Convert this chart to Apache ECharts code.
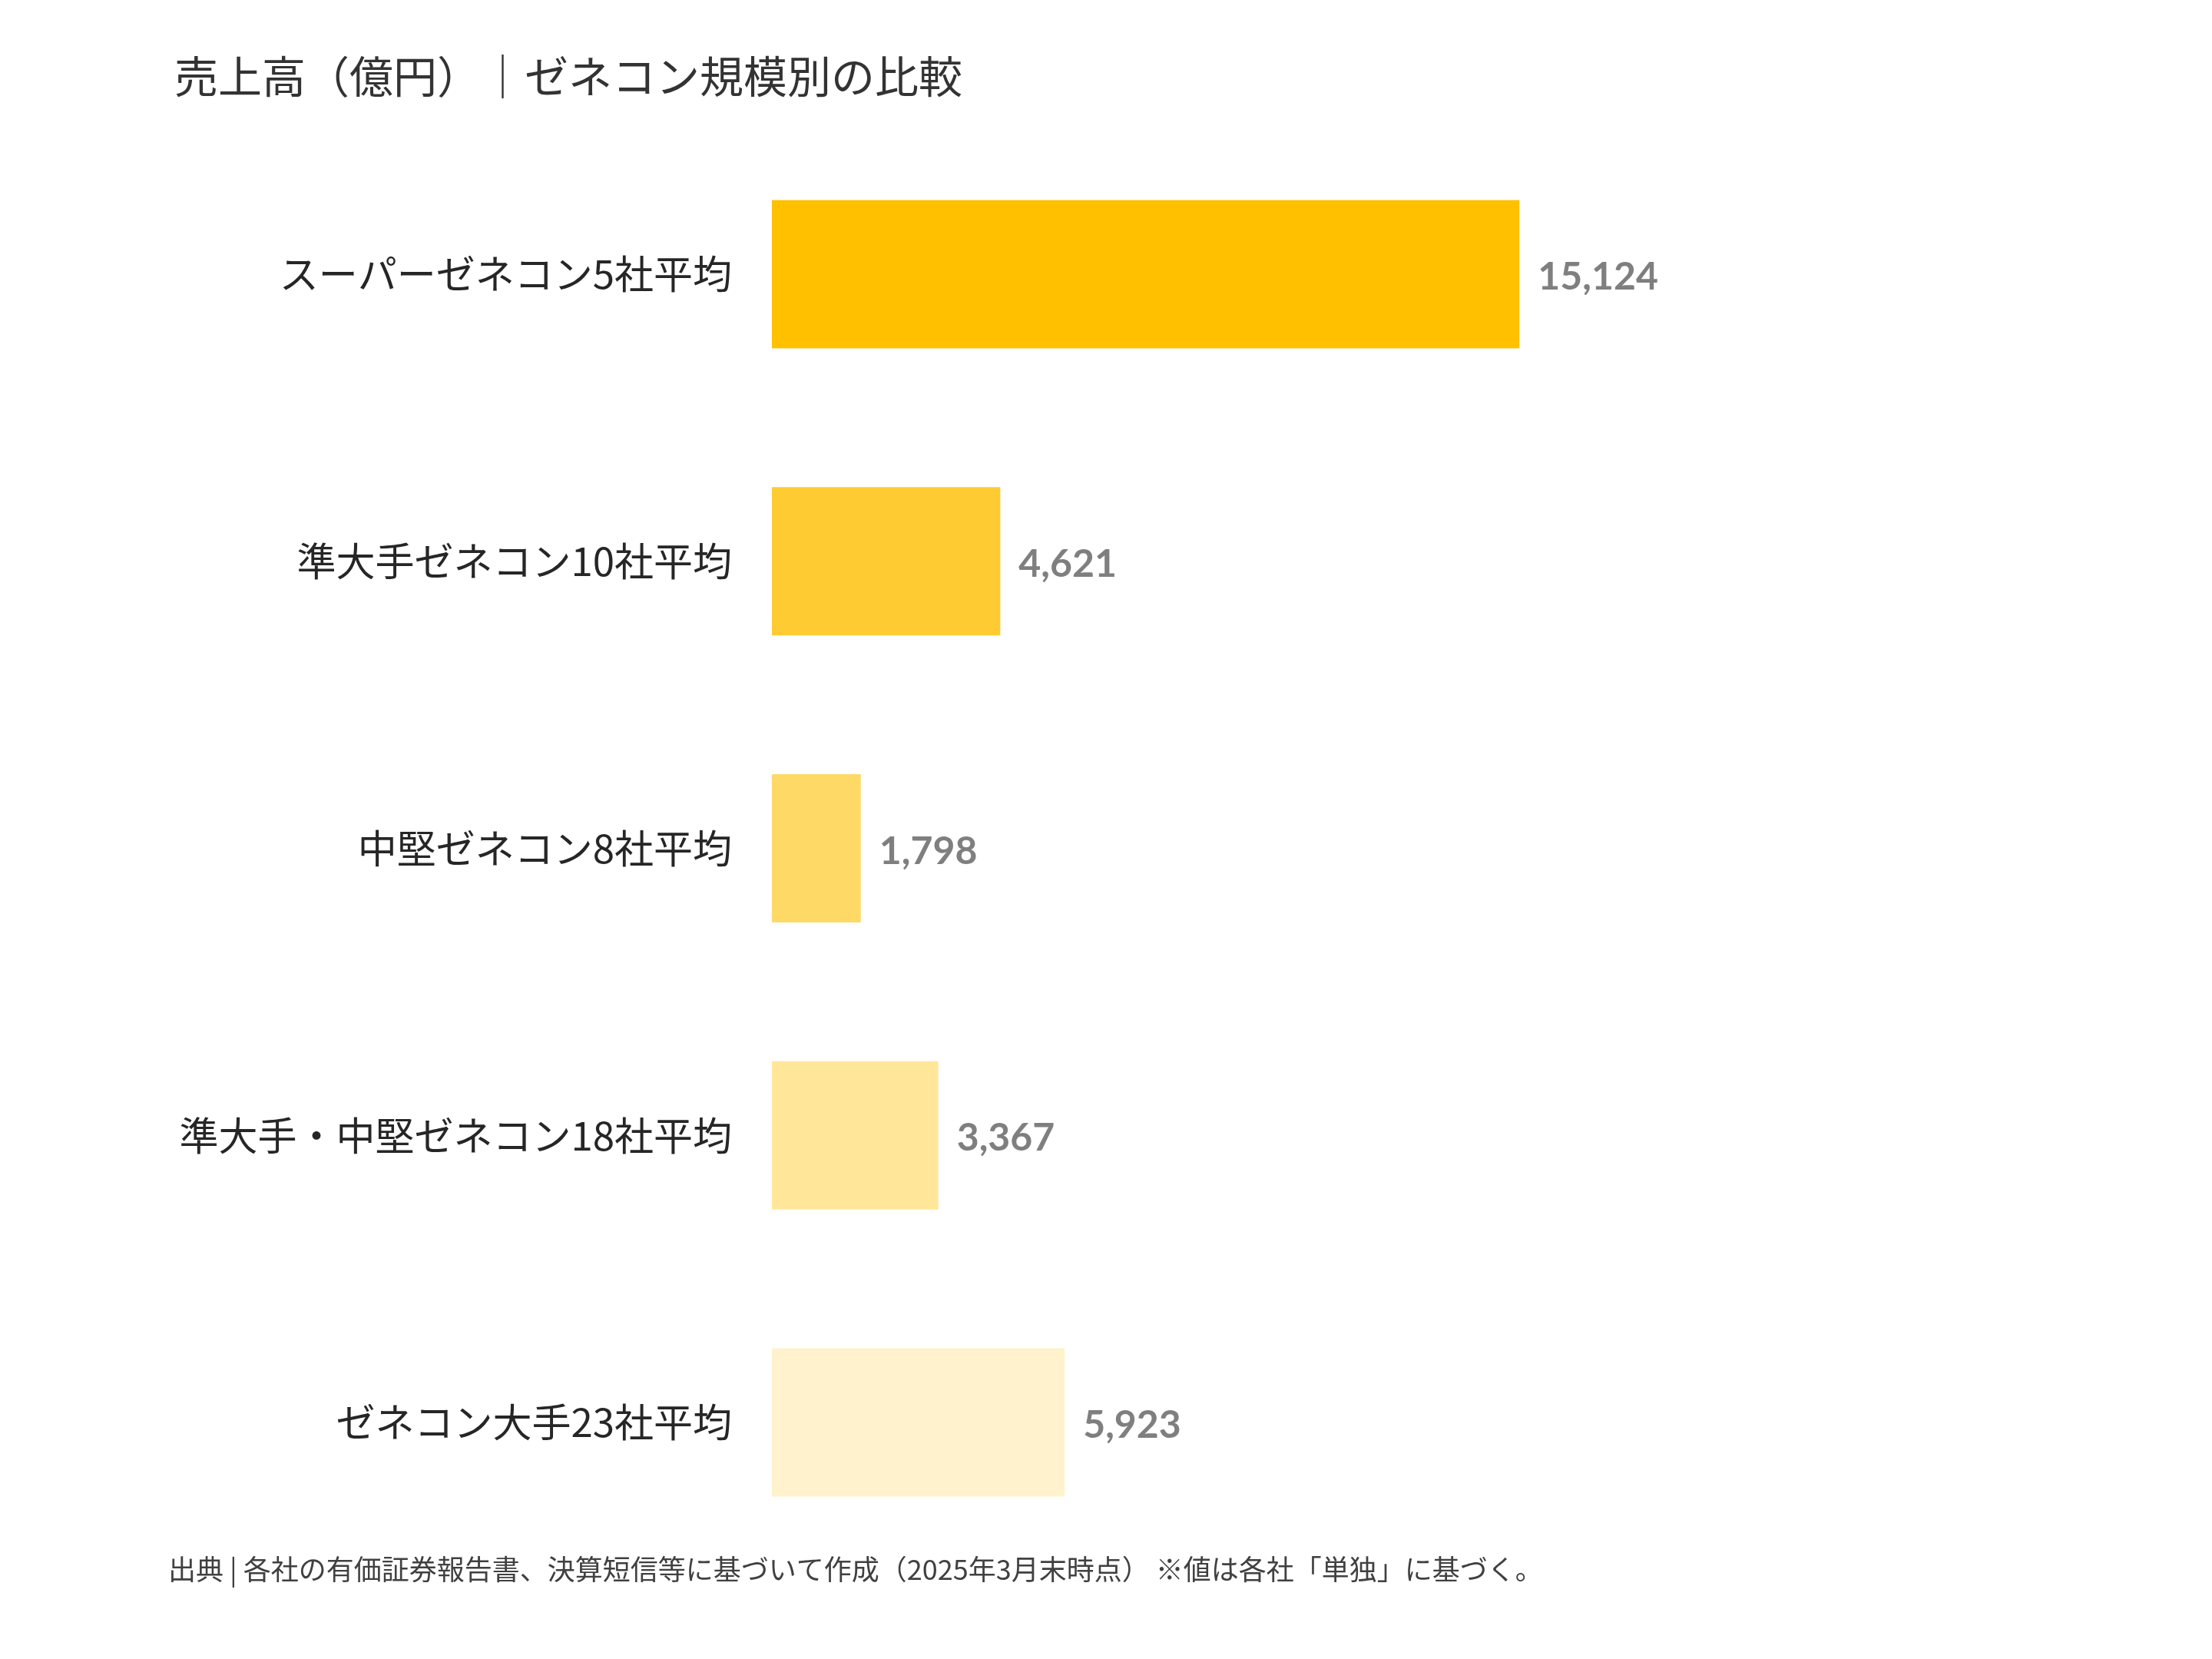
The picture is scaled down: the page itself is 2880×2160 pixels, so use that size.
<!DOCTYPE html>
<html>
<head>
<meta charset="utf-8">
<script src="https://cdn.jsdelivr.net/npm/echarts@6/dist/echarts.min.js"></script>
<style>
  html, body { margin: 0; padding: 0; background: #fff; }
  #chart { width: 2880px; height: 2160px; }
</style>
</head>
<body>
<div id="chart"></div>
<script>
// 区分
var categories = ['スーパーゼネコン5社平均', '準大手ゼネコン10社平均', '中堅ゼネコン8社平均', '準大手・中堅ゼネコン18社平均', 'ゼネコン大手23社平均'];
// 売上高（億円）
var sales = [15124, 4621, 1798, 3367, 5923];
var barColors = ['#FFC000', '#FFCB33', '#FFD966', '#FFE699', '#FFF2CC'];

var titleText = '売上高（億円）｜ゼネコン規模別の比較';
var noteText = '出典 | 各社の有価証券報告書、決算短信等に基づいて作成（2025年3月末時点） ※値は各社「単独」に基づく。';

var jpFont = '"Noto Sans CJK JP", "Noto Sans", sans-serif';

var myChart = echarts.init(document.getElementById('chart'));

var seriesData = [];
for (var i = 0; i < sales.length; i++) {
    seriesData.push({ value: sales[i], itemStyle: { color: barColors[i] } });
}

var option = {
    backgroundColor: '#ffffff',
    animation: false,
    title: [
        {
            text: titleText,
            left: 222,
            top: 66,
            textStyle: { fontFamily: jpFont, fontSize: 57, fontWeight: 'normal', color: '#333333' }
        },
        {
            text: noteText,
            left: 214,
            top: 2020,
            textStyle: { fontFamily: jpFont, fontSize: 36, fontWeight: 'normal', color: '#404040' }
        }
    ],
    grid: {
        left: 1005,
        right: 588,
        top: 170,
        bottom: 121,
        containLabel: false
    },
    xAxis: {
        type: 'value',
        min: 0,
        max: 20000,
        show: false
    },
    yAxis: {
        type: 'category',
        data: categories,
        inverse: true,
        axisLine: { show: false },
        axisTick: { show: false },
        splitLine: { show: false },
        axisLabel: {
            margin: 52,
            fontFamily: jpFont,
            fontSize: 51,
            color: '#262626'
        }
    },
    series: [
        {
            name: '売上高',
            type: 'bar',
            barWidth: 193,
            data: seriesData,
            label: {
                show: true,
                position: 'right',
                distance: 24,
                offset: [0, 4],
                fontFamily: 'Lato, "Open Sans", sans-serif',
                fontWeight: 'bold',
                fontSize: 50,
                color: '#7F7F7F',
                formatter: function (p) {
                    return p.value.toLocaleString('en-US');
                }
            }
        }
    ]
};

myChart.setOption(option);
</script>
</body>
</html>
